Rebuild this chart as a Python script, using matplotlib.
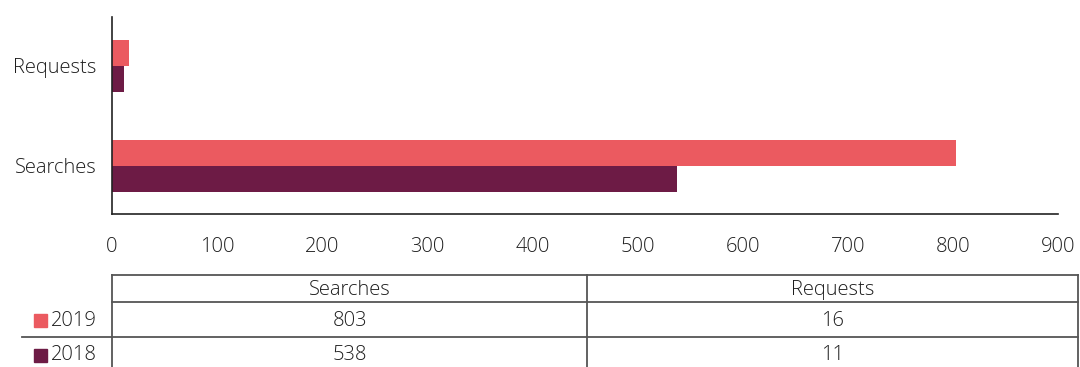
import numpy as np
import matplotlib
matplotlib.use("Agg")
import matplotlib.pyplot as plt

categories = ["Searches", "Requests"]
years = ["2019", "2018"]
values_2019 = [803, 16]
values_2018 = [538, 11]
colors = ["#EB5A60", "#6D1B45"]
xticks = [0, 100, 200, 300, 400, 500, 600, 700, 800, 900]

plt.rcParams['font.family'] = ['Open Sans', 'DejaVu Sans']
plt.rcParams['font.weight'] = 'light'
text_col = "#1e1e1e"
line_col = "#555555"
fs = 14.5

W, H = 1080, 367
fig = plt.figure(figsize=(W / 100, H / 100), dpi=100)

# bar chart
ax = fig.add_axes([112 / W, 1 - 214 / H, (1058 - 112) / W, (214 - 17) / H])
y = np.arange(len(categories))
h = 0.26
ax.barh(y + h / 2, values_2019, height=h, color=colors[0])
ax.barh(y - h / 2, values_2018, height=h, color=colors[1])
ax.set_xlim(0, 900)
ax.set_ylim(-0.48, 1.49)
ax.set_xticks(xticks)
ax.set_yticks(y)
ax.set_yticklabels(categories)
ax.tick_params(axis='x', length=0, pad=16.5, labelsize=fs, colors=text_col)
ax.tick_params(axis='y', length=0, pad=11, labelsize=fs, colors=text_col)
for s in ['top', 'right']:
    ax.spines[s].set_visible(False)
for s in ['left', 'bottom']:
    ax.spines[s].set_color("#222222")
    ax.spines[s].set_linewidth(1.2)

# data table underneath, in pixel coordinates
tb = fig.add_axes([0, 0, 1, 1])
tb.set_xlim(0, W)
tb.set_ylim(H, 0)
tb.axis('off')

x_left, x_mid, x_right = 112, 587, 1078
row_tops = [275, 302, 337]
row_h = 35
lw = 1.3
tb.plot([x_left, x_right], [row_tops[0]] * 2, color=line_col, lw=lw)
tb.plot([x_left, x_right], [row_tops[1]] * 2, color=line_col, lw=lw)
tb.plot([22, x_right], [row_tops[2]] * 2, color=line_col, lw=lw)
for xv in [x_left, x_mid, x_right]:
    tb.plot([xv, xv], [row_tops[0], H + 5], color=line_col, lw=lw)

col_centers = [(x_left + x_mid) / 2, (x_mid + x_right) / 2]
for cx, cat in zip(col_centers, categories):
    tb.text(cx, (row_tops[0] + row_tops[1]) / 2 + 1.5, cat, ha='center', va='center',
            fontsize=fs, color=text_col)

for i, (yr, vals) in enumerate(zip(years, [values_2019, values_2018])):
    cy = row_tops[1] + row_h * i + row_h / 2 + 1
    tb.add_patch(plt.Rectangle((34, cy - 6.5), 13, 13, color=colors[i]))
    tb.text(51, cy, yr, ha='left', va='center', fontsize=fs, color=text_col)
    for cx, v in zip(col_centers, vals):
        tb.text(cx, cy, str(v), ha='center', va='center', fontsize=fs, color=text_col)

fig.savefig("out.png", dpi=100)
